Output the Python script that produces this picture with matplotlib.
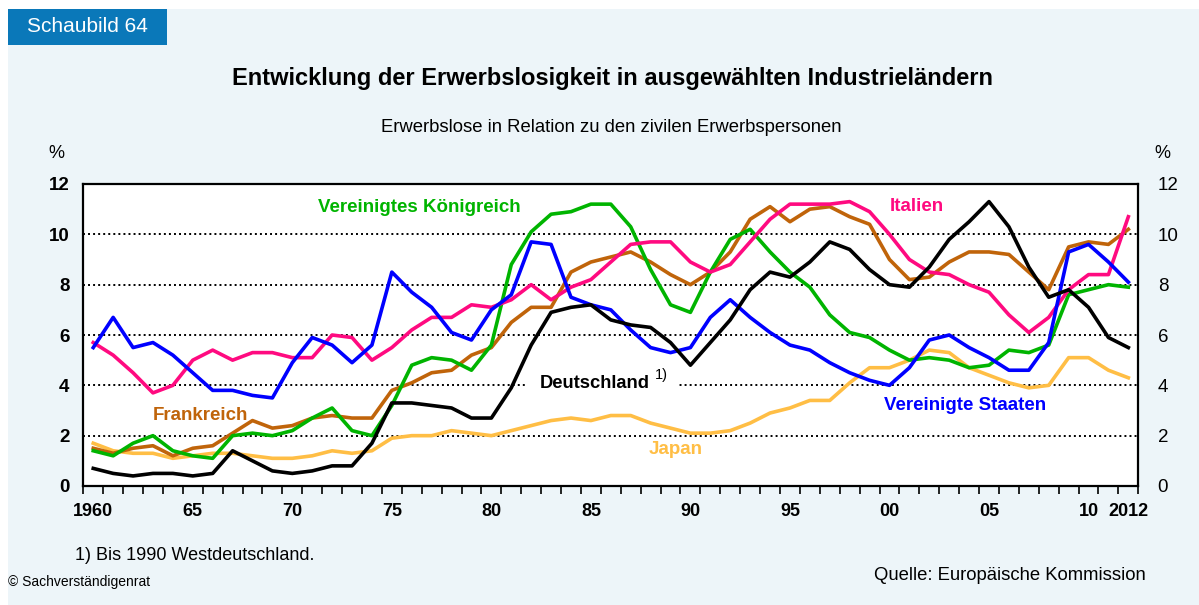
import numpy as np
import matplotlib
matplotlib.use("Agg")
import matplotlib.pyplot as plt
from matplotlib.patches import Rectangle

plt.rcParams['font.family'] = ['Liberation Sans', 'DejaVu Sans']

# Arbeitslosenquoten in %, 1960-2012
years = np.arange(1960, 2013)

usa = [5.5, 6.7, 5.5, 5.7, 5.2, 4.5, 3.8, 3.8, 3.6, 3.5, 4.9, 5.9, 5.6, 4.9, 5.6,
       8.5, 7.7, 7.1, 6.1, 5.8, 7.0, 7.6, 9.7, 9.6, 7.5, 7.2, 7.0, 6.2, 5.5, 5.3,
       5.5, 6.7, 7.4, 6.7, 6.1, 5.6, 5.4, 4.9, 4.5, 4.2, 4.0, 4.7, 5.8, 6.0, 5.5,
       5.1, 4.6, 4.6, 5.7, 9.3, 9.6, 8.9, 8.1]
italien = [5.7, 5.2, 4.5, 3.7, 4.0, 5.0, 5.4, 5.0, 5.3, 5.3, 5.1, 5.1, 6.0, 5.9, 5.0,
           5.5, 6.2, 6.7, 6.7, 7.2, 7.1, 7.4, 8.0, 7.4, 7.9, 8.2, 8.9, 9.6, 9.7, 9.7,
           8.9, 8.5, 8.8, 9.7, 10.6, 11.2, 11.2, 11.2, 11.3, 10.9, 10.0, 9.0, 8.5, 8.4,
           8.0, 7.7, 6.8, 6.1, 6.7, 7.8, 8.4, 8.4, 10.7]
frankreich = [1.5, 1.3, 1.5, 1.6, 1.2, 1.5, 1.6, 2.1, 2.6, 2.3, 2.4, 2.7, 2.8, 2.7, 2.7,
              3.8, 4.1, 4.5, 4.6, 5.2, 5.5, 6.5, 7.1, 7.1, 8.5, 8.9, 9.1, 9.3, 8.9, 8.4,
              8.0, 8.5, 9.3, 10.6, 11.1, 10.5, 11.0, 11.1, 10.7, 10.4, 9.0, 8.2, 8.3, 8.9,
              9.3, 9.3, 9.2, 8.5, 7.8, 9.5, 9.7, 9.6, 10.2]
uk = [1.4, 1.2, 1.7, 2.0, 1.4, 1.2, 1.1, 2.0, 2.1, 2.0, 2.2, 2.7, 3.1, 2.2, 2.0,
      3.2, 4.8, 5.1, 5.0, 4.6, 5.6, 8.8, 10.1, 10.8, 10.9, 11.2, 11.2, 10.3, 8.6, 7.2,
      6.9, 8.5, 9.8, 10.2, 9.3, 8.5, 7.9, 6.8, 6.1, 5.9, 5.4, 5.0, 5.1, 5.0, 4.7,
      4.8, 5.4, 5.3, 5.6, 7.6, 7.8, 8.0, 7.9]
deutschland = [0.7, 0.5, 0.4, 0.5, 0.5, 0.4, 0.5, 1.4, 1.0, 0.6, 0.5, 0.6, 0.8, 0.8, 1.7,
               3.3, 3.3, 3.2, 3.1, 2.7, 2.7, 3.9, 5.6, 6.9, 7.1, 7.2, 6.6, 6.4, 6.3, 5.7,
               4.8, 5.7, 6.6, 7.8, 8.5, 8.3, 8.9, 9.7, 9.4, 8.6, 8.0, 7.9, 8.7, 9.8, 10.5,
               11.3, 10.3, 8.7, 7.5, 7.8, 7.1, 5.9, 5.5]
japan = [1.7, 1.4, 1.3, 1.3, 1.1, 1.2, 1.3, 1.3, 1.2, 1.1, 1.1, 1.2, 1.4, 1.3, 1.4,
         1.9, 2.0, 2.0, 2.2, 2.1, 2.0, 2.2, 2.4, 2.6, 2.7, 2.6, 2.8, 2.8, 2.5, 2.3,
         2.1, 2.1, 2.2, 2.5, 2.9, 3.1, 3.4, 3.4, 4.1, 4.7, 4.7, 5.0, 5.4, 5.3, 4.7,
         4.4, 4.1, 3.9, 4.0, 5.1, 5.1, 4.6, 4.3]

xtick_pos = [1960, 1965, 1970, 1975, 1980, 1985, 1990, 1995, 2000, 2005, 2010, 2012]
xtick_lab = ['1960', '65', '70', '75', '80', '85', '90', '95', '00', '05', '10', '2012']
yticks = [0, 2, 4, 6, 8, 10, 12]

bg = '#edf5f9'
fig = plt.figure(figsize=(11.99, 6.05), dpi=100)
fig.patch.set_facecolor('white')

W, H = 1199, 605
def fx(px):
    return px / W
def fy(py):
    return 1 - py / H

# hellblaue Flaeche und Kopfzeile
fig.patches.append(Rectangle((fx(8), 0), 1, fy(9), transform=fig.transFigure,
                             facecolor=bg, edgecolor='none', zorder=-10))
fig.patches.append(Rectangle((fx(8), fy(45)), fx(159), 36 / H, transform=fig.transFigure,
                             facecolor='#0a78b9', edgecolor='none', zorder=-5))
fig.text(fx(87), fy(27), 'Schaubild 64', color='white', fontsize=15,
         ha='center', va='center')

fig.text(fx(613), fy(78), 'Entwicklung der Erwerbslosigkeit in ausgewählten Industrieländern',
         fontsize=17, fontweight='bold', ha='center', va='center')
fig.text(fx(611), fy(127), 'Erwerbslose in Relation zu den zivilen Erwerbspersonen',
         fontsize=13.3, ha='center', va='center')
fig.text(fx(56), fy(153), '%', fontsize=13, ha='center', va='center')
fig.text(fx(1162), fy(153), '%', fontsize=13, ha='center', va='center')

ax = fig.add_axes([fx(83.3), fy(486), fx(1138.3) - fx(83.3), (486 - 184) / H])
ax.set_facecolor('white')
ax.set_xlim(1959.5, 2012.5)
ax.set_ylim(0, 12)

for v in yticks[1:-1]:
    ax.axhline(v, color='black', lw=1.4, ls=(0, (1, 1.6)), zorder=1)

lw = 2.6
ax.plot(years, japan, color='#ffbe45', lw=lw, zorder=3)
ax.plot(years, frankreich, color='#c0640a', lw=lw, zorder=3)
ax.plot(years, uk, color='#00b400', lw=lw, zorder=3)
ax.plot(years, italien, color='#ff0a80', lw=lw, zorder=3)
ax.plot(years, usa, color='#0000ff', lw=lw, zorder=3)
ax.plot(years, deutschland, color='black', lw=lw, zorder=3)

lab = dict(fontsize=13.5, fontweight='bold', ha='center', va='center')
ax.text(1976.37, 11.08, 'Vereinigtes Königreich', color='#00b400', **lab)
ax.text(2001.35, 11.12, 'Italien', color='#ff0a80', **lab)
ax.text(1965.4, 2.82, 'Frankreich', color='#c0640a', **lab)
ax.text(2003.8, 3.18, 'Vereinigte Staaten', color='#0000ff', **lab)
ax.text(1989.27, 1.47, 'Japan', color='#ffbe45', **lab)

# weisses Feld unterbricht die Gitterlinie hinter dem Deutschland-Label
ax.add_patch(Rectangle((1981.8, 3.7), 7.55, 0.8, facecolor='white',
                       edgecolor='none', zorder=1.5))
ax.text(1982.45, 4.09, 'Deutschland', color='black', zorder=4, fontsize=13.2,
        fontweight='bold', ha='left', va='center')
ax.text(1988.55, 4.42, '1)', fontsize=10.5, ha='center', va='center', zorder=4)

for s in ax.spines.values():
    s.set_linewidth(1.6)
    s.set_zorder(5)

ax.set_xticks(np.arange(1959.5, 2013, 1.0))
ax.set_xticklabels([])
ax.tick_params(axis='x', which='major', direction='out', length=6, width=1.2, bottom=True)
ax.set_xticks(xtick_pos, minor=True)
ax.set_xticklabels(xtick_lab, minor=True, fontsize=13, fontweight='bold')
ax.tick_params(axis='x', which='minor', length=0, pad=12)

ax.set_yticks(yticks)
ax.set_yticklabels([str(v) for v in yticks], fontsize=13.5, fontweight='bold')
ax.tick_params(axis='y', length=0, pad=10)

ax2 = ax.twinx()
ax2.set_ylim(0, 12)
ax2.set_yticks(yticks)
ax2.set_yticklabels([str(v) for v in yticks], fontsize=13.5)
ax2.tick_params(axis='y', length=0, pad=14)
ax2.spines[:].set_visible(False)

fig.text(fx(75), fy(556), '1) Bis 1990 Westdeutschland.', fontsize=13, ha='left', va='center')
fig.text(fx(8), fy(582), '© Sachverständigenrat', fontsize=10, ha='left', va='center')
fig.text(fx(1146), fy(576), 'Quelle: Europäische Kommission', fontsize=13.3, ha='right', va='center')

fig.savefig('out.png', dpi=100, facecolor=fig.get_facecolor())
